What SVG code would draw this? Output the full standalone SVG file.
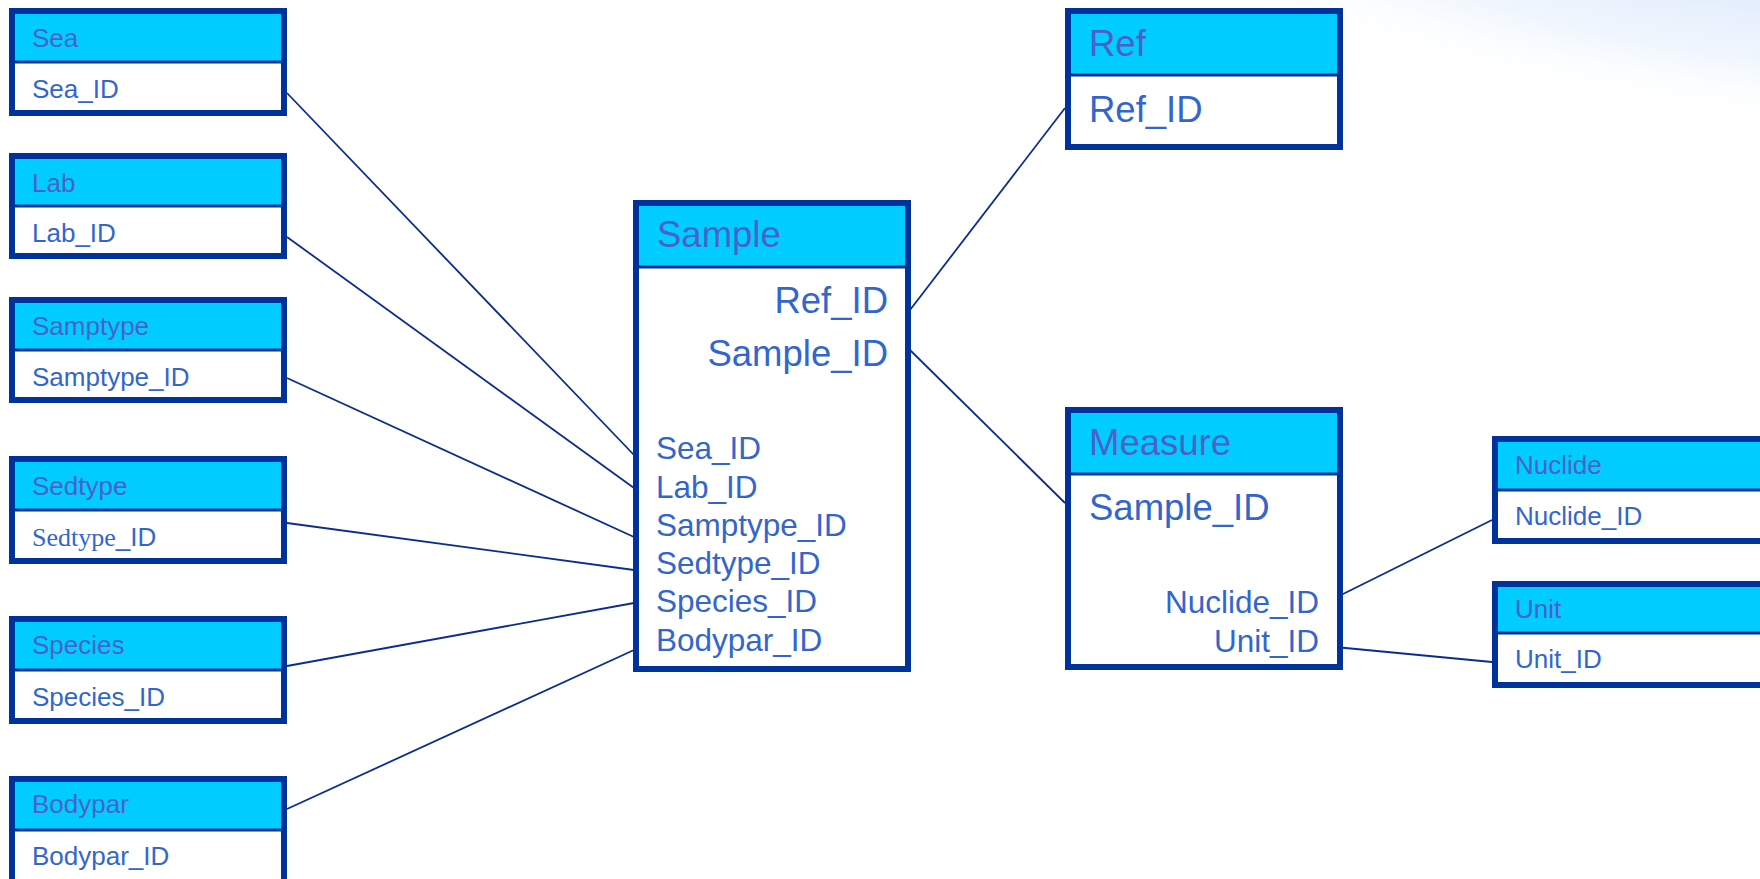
<svg xmlns="http://www.w3.org/2000/svg" width="1760" height="879" viewBox="0 0 1760 879">
<defs>
<radialGradient id="bg" cx="0.5" cy="0.5" r="0.5">
<stop offset="0" stop-color="#dde9fb" stop-opacity="1"/>
<stop offset="0.55" stop-color="#e9f2fd" stop-opacity="0.7"/>
<stop offset="1" stop-color="#ffffff" stop-opacity="0"/>
</radialGradient>
<style>
.box{fill:#ffffff;stroke:#003399;stroke-width:6}
.hdr{fill:#00ccff}
.div{stroke:#003399;stroke-width:3}
.ht{font-family:"Liberation Sans",Arial,sans-serif;fill:#4862c6}
.bt{font-family:"Liberation Sans",Arial,sans-serif;fill:#3366cc}
.s26{font-size:26px}
.s31{font-size:31.5px}
.s36{font-size:36.5px}
.conn line{stroke:#0b2d8e;stroke-width:1.8;fill:none}
</style>
</defs>
<rect width="1760" height="879" fill="#ffffff"/>
<ellipse cx="1720" cy="-30" rx="650" ry="150" transform="rotate(8 1720 -30)" fill="url(#bg)"/>

<g id="connectors" class="conn">
<line x1="287" y1="93" x2="634" y2="455"/>
<line x1="287" y1="237" x2="634" y2="488"/>
<line x1="287" y1="378" x2="634" y2="537"/>
<line x1="287" y1="523" x2="634" y2="570"/>
<line x1="287" y1="666" x2="634" y2="603"/>
<line x1="287" y1="809" x2="634" y2="650"/>
<line x1="910" y1="310" x2="1065" y2="108"/>
<line x1="910" y1="350" x2="1065" y2="503"/>
<line x1="1335" y1="598" x2="1492" y2="520"/>
<line x1="1335" y1="647" x2="1492" y2="662"/>
</g>

<g id="sea">
<rect class="box" x="12" y="11" width="272" height="102"/>
<rect class="hdr" x="15" y="14" width="266" height="48"/>
<line class="div" x1="15" y1="62" x2="281" y2="62"/>
<text class="ht s26" x="32" y="47">Sea</text>
<text class="bt s26" x="32" y="98">Sea_ID</text>
</g>

<g id="lab">
<rect class="box" x="12" y="156" width="272" height="100"/>
<rect class="hdr" x="15" y="159" width="266" height="47"/>
<line class="div" x1="15" y1="206" x2="281" y2="206"/>
<text class="ht s26" x="32" y="192">Lab</text>
<text class="bt s26" x="32" y="242">Lab_ID</text>
</g>

<g id="samptype">
<rect class="box" x="12" y="300" width="272" height="100"/>
<rect class="hdr" x="15" y="303" width="266" height="47"/>
<line class="div" x1="15" y1="350" x2="281" y2="350"/>
<text class="ht s26" x="32" y="335">Samptype</text>
<text class="bt s26" x="32" y="386">Samptype_ID</text>
</g>

<g id="sedtype">
<rect class="box" x="12" y="459" width="272" height="102"/>
<rect class="hdr" x="15" y="462" width="266" height="48"/>
<line class="div" x1="15" y1="510" x2="281" y2="510"/>
<text class="ht s26" x="32" y="495">Sedtype</text>
<text class="bt s26" x="32" y="546"><tspan font-family="'Liberation Serif','Times New Roman',serif">Sedtype</tspan>_ID</text>
</g>

<g id="species">
<rect class="box" x="12" y="619" width="272" height="102"/>
<rect class="hdr" x="15" y="622" width="266" height="48"/>
<line class="div" x1="15" y1="670" x2="281" y2="670"/>
<text class="ht s26" x="32" y="654">Species</text>
<text class="bt s26" x="32" y="706">Species_ID</text>
</g>

<g id="bodypar">
<rect class="box" x="12" y="779" width="272" height="130"/>
<rect class="hdr" x="15" y="782" width="266" height="48"/>
<line class="div" x1="15" y1="830" x2="281" y2="830"/>
<text class="ht s26" x="32" y="813">Bodypar</text>
<text class="bt s26" x="32" y="865">Bodypar_ID</text>
</g>

<g id="sample">
<rect class="box" x="636" y="203" width="272" height="466"/>
<rect class="hdr" x="639" y="206" width="266" height="61"/>
<line class="div" x1="639" y1="267" x2="905" y2="267"/>
<text class="ht s36" x="657" y="247">Sample</text>
<text class="bt s36" x="888" y="313" text-anchor="end">Ref_ID</text>
<text class="bt s36" x="888" y="366" text-anchor="end">Sample_ID</text>
<text class="bt s31" x="656" y="459">Sea_ID</text>
<text class="bt s31" x="656" y="498">Lab_ID</text>
<text class="bt s31" x="656" y="536">Samptype_ID</text>
<text class="bt s31" x="656" y="574">Sedtype_ID</text>
<text class="bt s31" x="656" y="612">Species_ID</text>
<text class="bt s31" x="656" y="651">Bodypar_ID</text>
</g>

<g id="ref">
<rect class="box" x="1068" y="11" width="272" height="136"/>
<rect class="hdr" x="1071" y="14" width="266" height="61"/>
<line class="div" x1="1071" y1="75" x2="1337" y2="75"/>
<text class="ht s36" x="1089" y="56">Ref</text>
<text class="bt s36" x="1089" y="122">Ref_ID</text>
</g>

<g id="measure">
<rect class="box" x="1068" y="410" width="272" height="257"/>
<rect class="hdr" x="1071" y="413" width="266" height="61"/>
<line class="div" x1="1071" y1="474" x2="1337" y2="474"/>
<text class="ht s36" x="1089" y="455">Measure</text>
<text class="bt s36" x="1089" y="520">Sample_ID</text>
<text class="bt s31" x="1319" y="613" text-anchor="end">Nuclide_ID</text>
<text class="bt s31" x="1319" y="652" text-anchor="end">Unit_ID</text>
</g>

<g id="nuclide">
<rect class="box" x="1495" y="439" width="300" height="102"/>
<rect class="hdr" x="1498" y="442" width="297" height="48"/>
<line class="div" x1="1498" y1="490" x2="1795" y2="490"/>
<text class="ht s26" x="1515" y="474">Nuclide</text>
<text class="bt s26" x="1515" y="525">Nuclide_ID</text>
</g>

<g id="unit">
<rect class="box" x="1495" y="584" width="300" height="101"/>
<rect class="hdr" x="1498" y="587" width="297" height="46"/>
<line class="div" x1="1498" y1="633" x2="1795" y2="633"/>
<text class="ht s26" x="1515" y="618">Unit</text>
<text class="bt s26" x="1515" y="668">Unit_ID</text>
</g>
</svg>
